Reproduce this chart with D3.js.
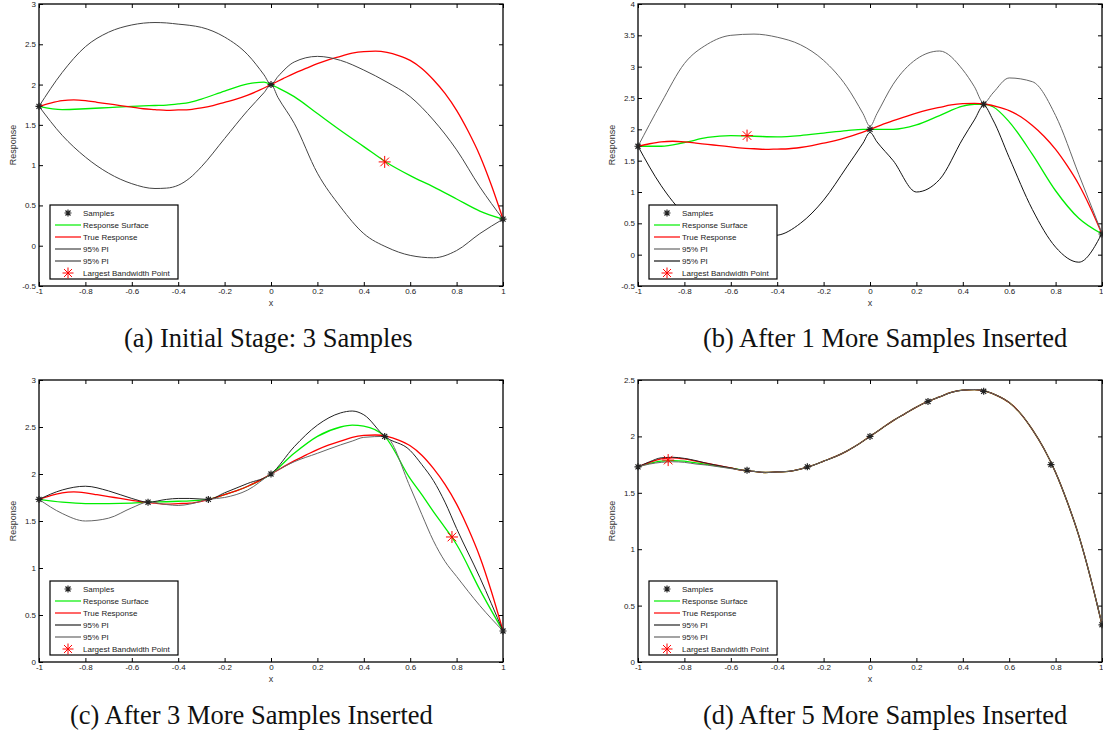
<!DOCTYPE html>
<html>
<head>
<meta charset="utf-8">
<script src="https://cdn.jsdelivr.net/npm/d3@7"></script>
<style>
  body { margin: 0; background: #fff; }
  svg text { font-family: Arial, "Liberation Sans", sans-serif; }
</style>
</head>
<body>
<div id="chart"></div>
<script>
// x ticks shared by all four panels
const xTicks = [-1, -0.8, -0.6, -0.4, -0.2, 0, 0.2, 0.4, 0.6, 0.8, 1];
const xTickLabels = ['-1', '-0.8', '-0.6', '-0.4', '-0.2', '0', '0.2', '0.4', '0.6', '0.8', '1'];

const legendLabels = ['Samples', 'Response Surface', 'True Response', '95% PI', '95% PI', 'Largest Bandwidth Point'];
const captions = [
  '(a) Initial Stage: 3 Samples',
  '(b) After 1 More Samples Inserted',
  '(c) After 3 More Samples Inserted',
  '(d) After 5 More Samples Inserted',
];

// true response (same function in every panel)
const trueX = [-1, -0.95, -0.9, -0.85, -0.8, -0.75, -0.7, -0.65, -0.6, -0.55, -0.5, -0.45, -0.4, -0.35, -0.3, -0.25, -0.2, -0.15, -0.1, -0.05,
  0, 0.05, 0.1, 0.15, 0.2, 0.25, 0.3, 0.35, 0.4, 0.45, 0.5, 0.55, 0.6, 0.65, 0.7, 0.75, 0.8, 0.85, 0.9, 0.95, 1];
const trueY = [1.73, 1.77, 1.80, 1.81, 1.80, 1.78, 1.76, 1.74, 1.72, 1.70, 1.69, 1.68, 1.685, 1.69, 1.71, 1.74, 1.78, 1.82, 1.87, 1.93,
  2.0, 2.07, 2.14, 2.20, 2.26, 2.31, 2.35, 2.39, 2.41, 2.415, 2.40, 2.36, 2.30, 2.20, 2.06, 1.89, 1.68, 1.42, 1.12, 0.75, 0.33];

// (a) initial stage
const aX = [-1, -0.9, -0.8, -0.7, -0.6, -0.5, -0.45, -0.4, -0.35, -0.3, -0.2, -0.1, -0.03, 0, 0.03, 0.1, 0.2, 0.3, 0.4, 0.5, 0.6, 0.7, 0.8, 0.9, 1];
const aSurface = [1.73, 1.69, 1.70, 1.715, 1.73, 1.74, 1.745, 1.76, 1.78, 1.82, 1.92, 2.01, 2.03, 2.0, 1.96, 1.85, 1.64, 1.43, 1.23, 1.03, 0.87, 0.73, 0.58, 0.43, 0.33];
const aUpper = [1.73, 2.15, 2.47, 2.65, 2.74, 2.77, 2.765, 2.75, 2.735, 2.71, 2.59, 2.37, 2.12, 2.0, 2.10, 2.28, 2.35, 2.30, 2.18, 2.03, 1.85, 1.56, 1.19, 0.73, 0.33];
const aLower = [1.73, 1.37, 1.10, 0.90, 0.77, 0.71, 0.715, 0.75, 0.84, 0.98, 1.33, 1.68, 1.90, 2.0, 1.84, 1.52, 0.90, 0.48, 0.15, -0.02, -0.12, -0.15, -0.06, 0.15, 0.33];
const aSamplesX = [-1, 0, 1];
const aSamplesY = [1.73, 2.0, 0.33];
const aBest = [0.49, 1.04];
const aYTicks = [-0.5, 0, 0.5, 1, 1.5, 2, 2.5, 3];

// (b) after 1 more sample
const bX = [-1, -0.9, -0.8, -0.7, -0.6, -0.5, -0.4, -0.3, -0.2, -0.1, -0.03, 0, 0.03, 0.1, 0.2, 0.3, 0.4, 0.45, 0.49, 0.53, 0.6, 0.7, 0.8, 0.9, 1];
const bSurface = [1.73, 1.73, 1.79, 1.87, 1.90, 1.89, 1.88, 1.90, 1.94, 1.98, 2.0, 2.0, 2.0, 2.0, 2.07, 2.22, 2.37, 2.40, 2.40, 2.36, 2.12, 1.60, 1.02, 0.58, 0.33];
const bUpper = [1.73, 2.42, 3.05, 3.36, 3.50, 3.52, 3.47, 3.35, 3.10, 2.68, 2.25, 2.05, 2.25, 2.72, 3.12, 3.25, 2.95, 2.68, 2.42, 2.58, 2.82, 2.76, 2.22, 1.28, 0.34];
const bLower = [1.73, 1.10, 0.65, 0.45, 0.34, 0.29, 0.31, 0.50, 0.87, 1.40, 1.78, 1.95, 1.80, 1.50, 1.00, 1.20, 1.85, 2.15, 2.38, 2.15, 1.55, 0.72, 0.12, -0.12, 0.34];
const bSamplesX = [-1, 0, 0.49, 1];
const bSamplesY = [1.73, 2.0, 2.40, 0.33];
const bBest = [-0.53, 1.90];
const bYTicks = [-0.5, 0, 0.5, 1, 1.5, 2, 2.5, 3, 3.5, 4];

// (c) after 3 more samples
const cX = [-1, -0.9, -0.8, -0.7, -0.6, -0.53, -0.45, -0.4, -0.35, -0.27, -0.2, -0.1, 0, 0.1, 0.2, 0.3, 0.35, 0.4, 0.49, 0.6, 0.65, 0.7, 0.75, 0.8, 0.9, 1];
const cSurface = [1.73, 1.70, 1.685, 1.685, 1.69, 1.70, 1.705, 1.71, 1.715, 1.73, 1.78, 1.87, 2.0, 2.22, 2.40, 2.50, 2.52, 2.51, 2.40, 1.95, 1.78, 1.60, 1.43, 1.25, 0.77, 0.33];
const cUpper = [1.73, 1.83, 1.87, 1.82, 1.74, 1.70, 1.73, 1.74, 1.74, 1.73, 1.80, 1.90, 2.0, 2.29, 2.52, 2.65, 2.67, 2.63, 2.40, 2.25, 2.10, 1.93, 1.70, 1.42, 0.90, 0.33];
const cLower = [1.73, 1.58, 1.50, 1.53, 1.64, 1.70, 1.675, 1.665, 1.68, 1.73, 1.75, 1.83, 2.0, 2.13, 2.22, 2.31, 2.35, 2.39, 2.40, 1.86, 1.57, 1.29, 1.07, 0.91, 0.60, 0.33];
const cSamplesX = [-1, -0.53, -0.27, 0, 0.49, 1];
const cSamplesY = [1.73, 1.70, 1.73, 2.0, 2.40, 0.33];
const cBest = [0.78, 1.33];
const cYTicks = [0, 0.5, 1, 1.5, 2, 2.5, 3];

// (d) after 5 more samples
const dX = trueX;
const dSurface = [1.73, 1.76, 1.78, 1.785, 1.78, 1.765, 1.75, 1.735, 1.72, 1.70, 1.69, 1.68, 1.685, 1.69, 1.71, 1.74, 1.78, 1.82, 1.87, 1.93,
  2.0, 2.07, 2.14, 2.20, 2.26, 2.31, 2.35, 2.39, 2.41, 2.415, 2.40, 2.36, 2.30, 2.20, 2.06, 1.89, 1.68, 1.42, 1.12, 0.75, 0.33];
const dUpper = [1.73, 1.775, 1.81, 1.815, 1.805, 1.785, 1.76, 1.74, 1.72, 1.70, 1.69, 1.68, 1.685, 1.69, 1.71, 1.74, 1.78, 1.82, 1.87, 1.93,
  2.0, 2.07, 2.14, 2.20, 2.26, 2.31, 2.35, 2.39, 2.41, 2.415, 2.40, 2.36, 2.30, 2.20, 2.06, 1.89, 1.68, 1.42, 1.12, 0.75, 0.33];
const dLower = [1.73, 1.755, 1.77, 1.775, 1.77, 1.755, 1.745, 1.73, 1.715, 1.70, 1.69, 1.68, 1.685, 1.69, 1.71, 1.74, 1.78, 1.82, 1.87, 1.93,
  2.0, 2.07, 2.14, 2.20, 2.26, 2.31, 2.35, 2.39, 2.41, 2.415, 2.40, 2.36, 2.30, 2.20, 2.06, 1.89, 1.68, 1.42, 1.12, 0.75, 0.33];
const dSamplesX = [-1, -0.53, -0.27, 0, 0.25, 0.49, 0.78, 1];
const dSamplesY = [1.73, 1.70, 1.73, 2.0, 2.31, 2.40, 1.75, 0.33];
const dBest = [-0.87, 1.79];
const dYTicks = [0, 0.5, 1, 1.5, 2, 2.5];

// panel layout
const panels = [
  { left: 39, top: 4, right: 503, bottom: 286, capX: 124, capY: 347, yTicks: aYTicks,
    x: aX, surface: aSurface, upper: aUpper, lower: aLower, sx: aSamplesX, sy: aSamplesY, best: aBest,
    piColors: ['#444', '#444'] },
  { left: 638, top: 4, right: 1102, bottom: 286, capX: 703, capY: 347, yTicks: bYTicks,
    x: bX, surface: bSurface, upper: bUpper, lower: bLower, sx: bSamplesX, sy: bSamplesY, best: bBest,
    piColors: ['#666', '#111'] },
  { left: 39, top: 380, right: 503, bottom: 662, capX: 70, capY: 724, yTicks: cYTicks,
    x: cX, surface: cSurface, upper: cUpper, lower: cLower, sx: cSamplesX, sy: cSamplesY, best: cBest,
    piColors: ['#222', '#666'] },
  { left: 638, top: 380, right: 1102, bottom: 662, capX: 703, capY: 724, yTicks: dYTicks,
    x: dX, surface: dSurface, upper: dUpper, lower: dLower, sx: dSamplesX, sy: dSamplesY, best: dBest,
    piColors: ['#222', '#666'] },
];

const svg = d3.select('#chart')
  .append('svg')
  .attr('width', 1103)
  .attr('height', 738)
  .style('display', 'block');

svg.append('rect').attr('width', 1103).attr('height', 738).attr('fill', '#fff');

// asterisk marker like matlab '*'
function star(s) {
  const k = s * 0.72;
  return `M${-s},0H${s}M0,${-s}V${s}M${-k},${-k}L${k},${k}M${-k},${k}L${k},${-k}`;
}

panels.forEach((p, i) => {
  const yTicks = p.yTicks;
  const x = d3.scaleLinear().domain([-1, 1]).range([p.left, p.right]);
  const y = d3.scaleLinear().domain([yTicks[0], yTicks[yTicks.length - 1]]).range([p.bottom, p.top]);

  const g = svg.append('g');
  const clipId = `clip${i}`;
  g.append('clipPath').attr('id', clipId)
    .append('rect')
    .attr('x', p.left).attr('y', p.top)
    .attr('width', p.right - p.left).attr('height', p.bottom - p.top);

  // axes: ticks inward on all sides, matlab style
  const tickLen = 4;
  const axB = g.append('g').attr('transform', `translate(0,${p.bottom})`)
    .call(d3.axisBottom(x).tickValues(xTicks).tickSize(-tickLen).tickPadding(4)
      .tickFormat((d, j) => xTickLabels[j]));
  const axT = g.append('g').attr('transform', `translate(0,${p.top})`)
    .call(d3.axisTop(x).tickValues(xTicks).tickSize(-tickLen).tickFormat(''));
  const axL = g.append('g').attr('transform', `translate(${p.left},0)`)
    .call(d3.axisLeft(y).tickValues(yTicks).tickSize(-tickLen).tickPadding(4)
      .tickFormat(d => String(d)));
  const axR = g.append('g').attr('transform', `translate(${p.right},0)`)
    .call(d3.axisRight(y).tickValues(yTicks).tickSize(-tickLen).tickFormat(''));
  [axB, axT, axL, axR].forEach((a) => {
    a.select('.domain').remove();
    a.selectAll('line').attr('stroke', '#000');
    a.selectAll('text').attr('font-size', 8).attr('fill', '#222')
      .attr('font-family', 'Arial, "Liberation Sans", sans-serif');
  });
  axB.selectAll('text').attr('dy', '0.55em');
  axL.selectAll('text').attr('dx', '1px');
  // keep the last label inside the page when the panel touches the right edge
  if (p.right > 1095) {
    axB.selectAll('.tick').filter(d => d === 1).select('text').attr('text-anchor', 'end').attr('dx', '1px');
  }

  g.append('rect')
    .attr('x', p.left).attr('y', p.top)
    .attr('width', p.right - p.left).attr('height', p.bottom - p.top)
    .attr('fill', 'none').attr('stroke', '#000').attr('stroke-width', 1.3);

  g.append('text')
    .attr('x', (p.left + p.right) / 2).attr('y', p.bottom + 20)
    .attr('text-anchor', 'middle').attr('font-size', 9).attr('fill', '#333')
    .text('x');
  g.append('text')
    .attr('transform', `translate(${p.left - 23},${(p.top + p.bottom) / 2}) rotate(-90)`)
    .attr('text-anchor', 'middle').attr('font-size', 9).attr('fill', '#333')
    .text('Response');

  const line = d3.line()
    .x(d => x(d[0]))
    .y(d => y(d[1]))
    .curve(d3.curveMonotoneX);

  const plot = g.append('g').attr('clip-path', `url(#${clipId})`);
  const pairs = (xs, ys) => xs.map((v, j) => [v, ys[j]]);

  plot.append('path').datum(pairs(p.x, p.surface))
    .attr('d', line).attr('fill', 'none').attr('stroke', '#00ee00').attr('stroke-width', 1.3);
  plot.append('path').datum(pairs(trueX, trueY))
    .attr('d', line).attr('fill', 'none').attr('stroke', '#ff0000').attr('stroke-width', 1.3);
  plot.append('path').datum(pairs(p.x, p.upper))
    .attr('d', line).attr('fill', 'none').attr('stroke', p.piColors[0]).attr('stroke-width', 1);
  plot.append('path').datum(pairs(p.x, p.lower))
    .attr('d', line).attr('fill', 'none').attr('stroke', p.piColors[1]).attr('stroke-width', 1);

  g.selectAll('.sample').data(pairs(p.sx, p.sy)).enter()
    .append('path')
    .attr('transform', d => `translate(${x(d[0])},${y(d[1])})`)
    .attr('d', star(3.5)).attr('stroke', '#222').attr('stroke-width', 1.2).attr('fill', 'none');

  g.append('path')
    .attr('transform', `translate(${x(p.best[0])},${y(p.best[1])})`)
    .attr('d', star(6)).attr('stroke', '#ff0000').attr('stroke-width', 1).attr('fill', 'none');

  // legend
  const lx = p.left + 11;
  const ly = p.bottom - 81;
  const leg = g.append('g').attr('transform', `translate(${lx},${ly})`);
  leg.append('rect').attr('width', 128).attr('height', 74)
    .attr('fill', '#fff').attr('stroke', '#000').attr('stroke-width', 1.2);
  const legStyles = [
    { marker: 'sample' },
    { stroke: '#00ee00' },
    { stroke: '#ff0000' },
    { stroke: p.piColors[0] },
    { stroke: p.piColors[1] },
    { marker: 'best' },
  ];
  legendLabels.forEach((label, j) => {
    const yy = 8 + j * 12;
    const st = legStyles[j];
    if (st.marker === 'sample') {
      leg.append('path').attr('transform', `translate(18,${yy})`)
        .attr('d', star(3.5)).attr('stroke', '#222').attr('stroke-width', 1.2).attr('fill', 'none');
    } else if (st.marker === 'best') {
      leg.append('path').attr('transform', `translate(18,${yy})`)
        .attr('d', star(5.5)).attr('stroke', '#ff0000').attr('stroke-width', 1).attr('fill', 'none');
    } else {
      leg.append('line').attr('x1', 5).attr('x2', 31).attr('y1', yy).attr('y2', yy)
        .attr('stroke', st.stroke).attr('stroke-width', 1.2);
    }
    leg.append('text').attr('x', 33).attr('y', yy).attr('dy', '0.35em')
      .attr('font-size', 8).attr('fill', '#222').text(label);
  });

  svg.append('text')
    .attr('x', p.capX).attr('y', p.capY)
    .attr('font-size', 26.5).attr('fill', '#111')
    .style('font-family', '"Liberation Serif", "Times New Roman", serif')
    .text(captions[i]);
});
</script>
</body>
</html>
